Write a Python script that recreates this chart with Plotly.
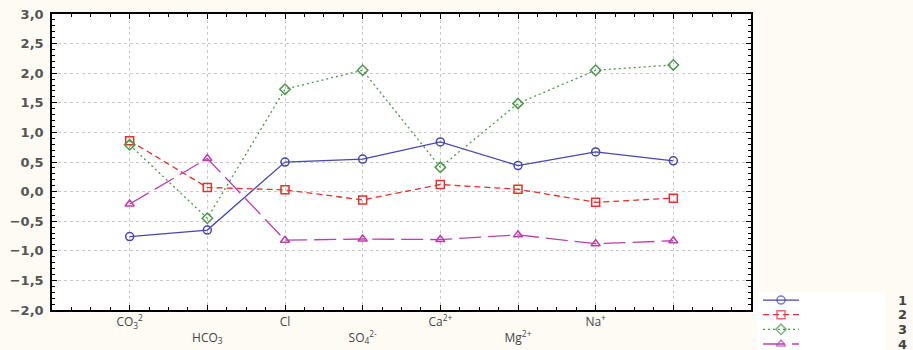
import plotly.graph_objects as go

categories = ["CO<sub>3</sub><sup>2</sup>", "HCO<sub>3</sub>", "Cl", "SO<sub>4</sub><sup>2-</sup>",
              "Ca<sup>2+</sup>", "Mg<sup>2+</sup>", "Na<sup>+</sup>", ""]
series_names = ["1", "2", "3", "4"]
s1 = [-0.76, -0.65, 0.50, 0.55, 0.84, 0.44, 0.67, 0.52]
s2 = [0.86, 0.07, 0.03, -0.14, 0.12, 0.04, -0.18, -0.11]
s3 = [0.79, -0.45, 1.73, 2.05, 0.41, 1.49, 2.05, 2.14]
s4 = [-0.21, 0.56, -0.82, -0.80, -0.81, -0.73, -0.88, -0.83]
y_ticks = [3.0, 2.5, 2.0, 1.5, 1.0, 0.5, 0.0, -0.5, -1.0, -1.5, -2.0]

# the page is photographed at 913x358 and shown at 913x350, so lay out in 358-px space
W, H = 913, 358
SY = H / 350.0
ML, MT = 52, round(14 * SY)
PW, PH = W - ML, H - MT  # paper area (no right/bottom margin)

def px_x(p):
    return (p - ML) / PW

def px_y(p):
    return (H - p * SY) / PH

xs = list(range(len(categories)))
styles = [
    dict(color="#4646b4", dash="solid", symbol="circle-open"),
    dict(color="#e8302c", dash="6px,4px", symbol="square-open"),
    dict(color="#4a9a4a", dash="2px,3px", symbol="diamond-open"),
    dict(color="#c23cb0", dash="22px,7px", symbol="triangle-up-open"),
]

fig = go.Figure()
for name, vals, st in zip(series_names, [s1, s2, s3, s4], styles):
    fig.add_trace(go.Scatter(
        x=xs, y=vals, mode="lines+markers", name=name, showlegend=False,
        xaxis="x", yaxis="y",
        line=dict(color=st["color"], dash=st["dash"], width=1.3),
        marker=dict(symbol=st["symbol"], size=8, color=st["color"],
                    line=dict(width=1.5, color=st["color"])),
    ))

# manual legend (samples on a small auxiliary axis pair)
LEG_TOP, LEG_ROW0, LEG_STEP = 293, 344, 14.67
for i, (name, st) in enumerate(zip(series_names, styles)):
    row = len(series_names) - 1 - i
    fig.add_trace(go.Scatter(
        x=[0, 0.5, 1], y=[row, row, row], mode="lines+markers",
        xaxis="x2", yaxis="y2", showlegend=False, hoverinfo="skip",
        line=dict(color=st["color"], dash=st["dash"], width=1.3),
        marker=dict(symbol=st["symbol"], size=[0, 8, 0], color=st["color"],
                    line=dict(width=1.5, color=st["color"])),
    ))
    fig.add_annotation(x=px_x(902), y=px_y(LEG_ROW0 - row * LEG_STEP), xref="paper", yref="paper",
                       text=name, showarrow=False, xanchor="center", yanchor="middle",
                       font=dict(family="DejaVu Sans", size=13, color="#444", weight="bold"))

fig.add_shape(type="rect", xref="paper", yref="paper",
              x0=px_x(757), x1=px_x(885), y0=0, y1=px_y(292),
              fillcolor="white", line=dict(width=0), layer="below")

ticktext = [c if i % 2 == 0 else "<br>" + c for i, c in enumerate(categories)]

# legend axis range so that rows land on target pixels
y2_lo = -(350 - LEG_ROW0) / LEG_STEP
y2_hi = (LEG_ROW0 - LEG_TOP) / LEG_STEP

fig.update_layout(
    width=W, height=H,
    margin=dict(l=ML, r=0, t=MT, b=0),
    paper_bgcolor="#fdfbf4", plot_bgcolor="white",
    separators=",.",
    font=dict(family="DejaVu Sans", size=12, color="#444"),
    showlegend=False,
    xaxis=dict(
        domain=[0, px_x(751)], anchor="y",
        range=[-1, 8], tickmode="array", tickvals=xs, ticktext=ticktext,
        ticks="inside", ticklen=5, tickcolor="black",
        showline=True, linecolor="black", linewidth=1.5, mirror="allticks",
        showgrid=True, gridcolor="#c8c8c8", griddash="dot", gridwidth=1,
        zeroline=False,
        tickfont=dict(family="Open Sans", size=12, color="#444"),
        minor=dict(tick0=0, dtick=0.25, ticks="inside", ticklen=3, tickcolor="black", showgrid=False),
    ),
    yaxis=dict(
        domain=[px_y(310), 1], anchor="x",
        range=[-2, 3], tickmode="array", tickvals=y_ticks, tickformat=".1f",
        ticks="inside", ticklen=5, tickcolor="black",
        showline=True, linecolor="black", linewidth=1.5, mirror="allticks",
        showgrid=True, gridcolor="#c8c8c8", griddash="dot", gridwidth=1,
        zeroline=False, ticklabelstandoff=4,
        tickfont=dict(family="DejaVu Sans", size=13, color="#555", weight="bold"),
        minor=dict(tick0=0, dtick=0.1, ticks="inside", ticklen=3, tickcolor="black", showgrid=False),
    ),
    xaxis2=dict(domain=[px_x(763), px_x(799)], range=[0, 1], visible=False,
                anchor="y2", fixedrange=True),
    yaxis2=dict(domain=[0, px_y(LEG_TOP)], range=[y2_lo, y2_hi],
                visible=False, anchor="x2", fixedrange=True),
)

page_fix = (
    "var d=document.documentElement,b=document.body;"
    "d.style.margin='0';d.style.padding='0';d.style.overflow='hidden';"
    "b.style.margin='0';b.style.padding='0';b.style.overflow='hidden';"
    "b.style.fontSize='0';b.style.lineHeight='0';"
    "document.querySelectorAll('.svg-container').forEach(function(e){e.style.display='block';});"
    "var g=document.querySelector('.plotly-graph-div');"
    "g.style.position='fixed';g.style.top='0';g.style.left='0';"
)
fig.write_html("out.html", config={"displayModeBar": False}, post_script=page_fix)
